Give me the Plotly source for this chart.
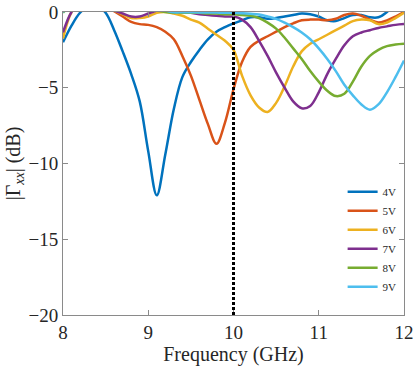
import plotly.graph_objects as go

# ------------------------------------------------------------
# données (pas de 0.1 GHz)
# ------------------------------------------------------------
freq = [round(8 + 0.1 * i, 1) for i in range(41)]

v4 = [-2.0, -0.9, -0.05, 0.4, 0.4, -0.05, -1.2, -2.6, -4.1, -5.9,
      -9.2, -12.1, -9.4, -6.4, -4.3, -3.3, -2.5, -1.8, -1.3, -1.0,
      -0.75, -0.55, -0.35, -0.35, -0.45, -0.4, -0.3, -0.2, -0.1, -0.15,
      -0.3, -0.55, -0.6, -0.4, -0.2, -0.2, -0.35, -0.35, 0.0, 0.6, 1.2]
v5 = [0.5, 0.8, 1.0, 1.0, 0.8, 0.4, 0.05, -0.3, -0.65, -0.8,
      -0.85, -1.0, -1.3, -1.8, -2.9, -4.2, -5.8, -7.4, -8.7, -7.3,
      -5.1, -3.3, -2.3, -1.9, -1.6, -1.3, -1.0, -0.75, -0.55, -0.5,
      -0.5, -0.55, -0.45, -0.2, -0.1, -0.25, -0.5, -0.7, -0.55, -0.3, 0.0]
v6 = [-1.75, 0.0, 0.6, 0.8, 0.8, 0.5, 0.1, -0.15, -0.4, -0.4,
      -0.3, -0.05, 0.0, -0.1, -0.25, -0.5, -0.7, -1.1, -1.5, -1.9,
      -2.5, -4.2, -5.5, -6.3, -6.6, -6.0, -4.9, -3.6, -2.6, -2.1,
      -1.8, -1.5, -1.2, -0.9, -0.6, -0.5, -0.55, -0.8, -0.7, -0.4, -0.05]
v7 = [-1.35, 0.0, 0.6, 0.8, 0.8, 0.5, 0.1, -0.1, -0.3, -0.3,
      -0.1, 0.1, 0.3, 0.3, 0.1, -0.05, -0.15, -0.2, -0.25, -0.3,
      -0.3, -0.5, -1.0, -1.9, -2.9, -4.0, -5.0, -5.9, -6.35, -6.2,
      -5.3, -4.1, -3.1, -2.2, -1.6, -1.35, -1.2, -1.05, -0.95, -0.85, -0.8]
v8 = [-0.05, 0.5, 0.8, 1.0, 1.0, 0.9, 0.8, 0.7, 0.5, 0.4,
      0.3, 0.1, 0.0, -0.05, -0.05, -0.05, -0.05, -0.1, -0.1, -0.15,
      -0.15, -0.2, -0.25, -0.4, -0.7, -1.1, -1.7, -2.4, -3.1, -3.9,
      -4.6, -5.2, -5.55, -5.4, -4.6, -3.6, -2.9, -2.5, -2.25, -2.15, -2.1]
v9 = [0.0, 0.5, 0.8, 1.0, 1.0, 0.9, 0.8, 0.7, 0.5, 0.4,
      0.3, 0.2, 0.1, -0.02, -0.02, -0.02, -0.03, -0.03, -0.04, -0.05,
      -0.05, -0.08, -0.12, -0.17, -0.3, -0.45, -0.7, -1.0, -1.35, -1.8,
      -2.4, -3.1, -3.9, -4.8, -5.5, -6.1, -6.45, -6.1, -5.3, -4.3, -3.2]

series = [("4V", v4), ("5V", v5), ("6V", v6), ("7V", v7), ("8V", v8), ("9V", v9)]
colors = ["#0072BD", "#D95319", "#EDB120", "#7E2F8E", "#77AC30", "#4DBEEE"]
marker_freq = 10  # ligne pointillée verticale

SERIF = "Liberation Serif, Times New Roman, serif"

# ------------------------------------------------------------
# figure
# ------------------------------------------------------------
fig = go.Figure()
for (name, vals), col in zip(series, colors):
    fig.add_trace(go.Scatter(x=freq, y=vals, name=name, mode="lines",
                             line=dict(color=col, width=2.5, shape="spline")))

fig.add_vline(x=marker_freq, line=dict(color="black", width=3, dash="3px,2px"))

axis_style = dict(showline=True, linecolor="#8a8a8a", linewidth=1, mirror="ticks",
                  ticks="inside", ticklen=5, tickcolor="#8a8a8a",
                  showgrid=False, zeroline=False, automargin=False,
                  tickfont=dict(family=SERIF, size=19, color="#262626"))

fig.update_layout(
    width=415, height=371,
    margin=dict(l=63, r=11, t=12, b=56),
    plot_bgcolor="white", paper_bgcolor="white",
    font=dict(family=SERIF, color="#262626"),
    xaxis=dict(range=[8, 12], dtick=1,
               title=dict(text="Frequency (GHz)", font=dict(family=SERIF, size=20), standoff=2),
               **axis_style),
    yaxis=dict(range=[-20, 0], dtick=5,
               title=dict(text="|Γ<sub><i>xx</i></sub>| (dB)", font=dict(family=SERIF, size=20), standoff=2),
               **axis_style),
    legend=dict(x=0.82, y=0.455, xanchor="left", yanchor="top",
                font=dict(family=SERIF, size=11, color="#262626"),
                bgcolor="rgba(0,0,0,0)", itemwidth=30, tracegroupgap=0),
    showlegend=True,
)

# marge par défaut du <body> supprimée, pas de barre d'outils
fig.write_html("out.html", config={"displayModeBar": False},
               post_script="document.body.style.margin='0';")
